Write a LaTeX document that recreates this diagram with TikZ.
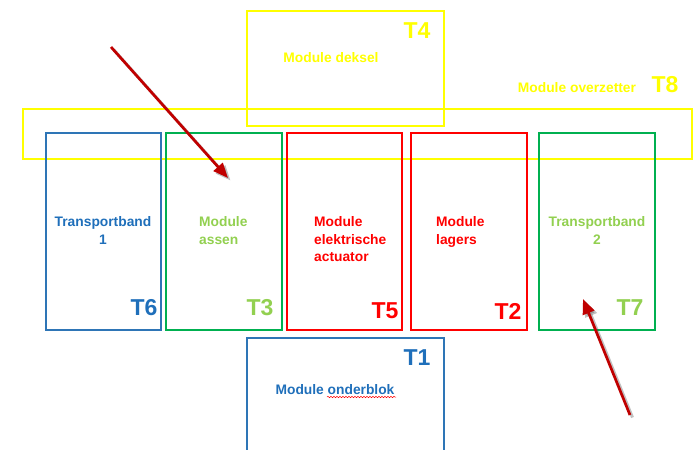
\documentclass[tikz,border=0pt]{standalone}
\usepackage{fontspec}
\setmainfont{Liberation Sans}
\usetikzlibrary{arrows.meta,decorations.pathmorphing}

\definecolor{tyellow}{RGB}{255,255,0}
\definecolor{tblue}{RGB}{46,117,182}
\definecolor{tbluetext}{RGB}{31,111,186}
\definecolor{tgreen}{RGB}{0,176,80}
\definecolor{tlime}{RGB}{146,208,80}
\definecolor{tred}{RGB}{255,0,0}
\definecolor{tarrow}{RGB}{192,0,0}

\tikzset{
  modbox/.style={line width=1.6pt},
  label/.style={inner sep=0pt, font=\fontsize{13.8}{17.3}\selectfont\bfseries},
  tag/.style={inner sep=0pt, font=\fontsize{23}{23}\selectfont\bfseries},
  pointer/.style={tarrow, line width=2.7pt, -{Triangle[length=15pt,width=12pt]}},
  pointershadow/.style={black!70, opacity=0.35, line width=3pt, -{Triangle[length=15pt,width=12pt]}}
}

\begin{document}
\begin{tikzpicture}[x=1pt, y=-1pt]
		\useasboundingbox (0,0) rectangle (697,450);
		
		% Top modules
		\draw[modbox, tyellow] (247,11) rectangle (444,126);
		\draw[modbox, tyellow] (23,109) rectangle (692,159);
		
		% Row of modules
		\foreach \xa/\xb/\col in {46/161/tblue, 166/282/tgreen, 287/402/tred, 411/527/tred, 539/655/tgreen}
		\draw[modbox, \col] (\xa,133) rectangle (\xb,330);
		
		% Bottom module
		\draw[modbox, tblue] (247,338) rectangle (444,460);
		
		% Names
		\node[label, tyellow] (deksel) at (331,58) {Module deksel};
		\node[label, tyellow] (overzetter) at (577,88) {Module overzetter};
		\node[label, tbluetext, align=center, anchor=north] (band1) at (103,216.5) {Transportband\\1};
		\node[label, tlime, align=left, anchor=north west] (assen) at (199,216.5) {Module\\assen};
		\node[label, tred, align=left, anchor=north west] (actuator) at (314,216.5) {Module\\elektrische\\actuator};
		\node[label, tred, align=left, anchor=north west] (lagers) at (436,216.5) {Module\\lagers};
		\node[label, tlime, align=center, anchor=north] (band2) at (597,216.5) {Transportband\\2};
		\node[label, tbluetext] (onderblok) at (335,390) {Module onderblok};
		\draw[tred, line width=0.5pt, decorate, decoration={snake, amplitude=0.7pt, segment length=3pt}] (327,397) -- (396,397);
		
		% Tags
		\foreach \x/\y/\lab/\col in {417/31/T4/tyellow, 665/85/T8/tyellow, 144/308/T6/tbluetext, 260/308/T3/tlime,
			385/311/T5/tred, 508/311/T2/tred, 630/308/T7/tlime, 417/358/T1/tbluetext}
		\node[tag, \col] (\lab) at (\x,\y) {\lab};
		
		% Pointers
		\coordinate (p1s) at (111,47);
		\coordinate (p1e) at (228,178);
		\coordinate (p2s) at (630,415);
		\coordinate (p2e) at (583,299);
		\draw[pointershadow, transform canvas={shift={(2.5pt,-2.5pt)}}] (p1s) -- (p1e);
		\draw[pointershadow, transform canvas={shift={(2.5pt,-2.5pt)}}] (p2s) -- (p2e);
		\draw[pointer] (p1s) -- (p1e);
		\draw[pointer] (p2s) -- (p2e);
		\end{tikzpicture}
\end{document}
